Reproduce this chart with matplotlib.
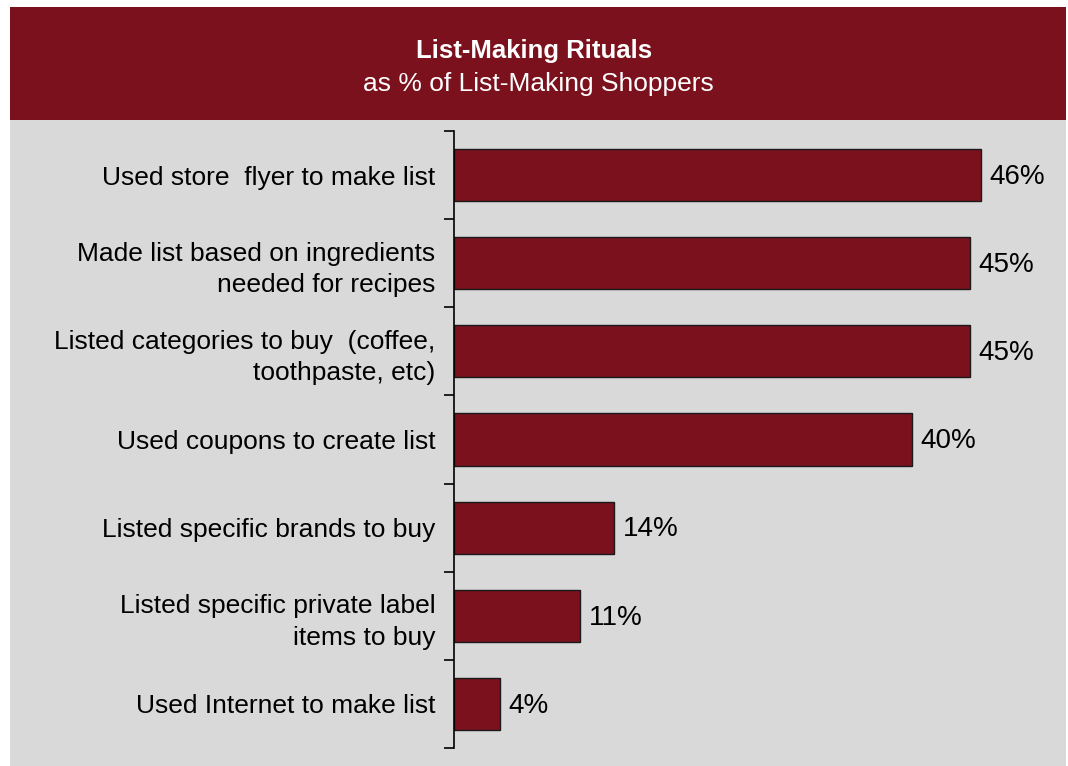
import matplotlib
matplotlib.use("Agg")
import matplotlib.pyplot as plt
from matplotlib.patches import Rectangle
import numpy as np

plt.rcParams['font.family'] = ['Liberation Sans', 'DejaVu Sans']

categories = [
    "Used store  flyer to make list",
    "Made list based on ingredients\nneeded for recipes",
    "Listed categories to buy  (coffee,\ntoothpaste, etc)",
    "Used coupons to create list",
    "Listed specific brands to buy",
    "Listed specific private label\nitems to buy",
    "Used Internet to make list",
]
values = [46, 45, 45, 40, 14, 11, 4]
value_labels = ["46%", "45%", "45%", "40%", "14%", "11%", "4%"]
title = "List-Making Rituals"
subtitle = "as % of List-Making Shoppers"

BAR = "#7B111D"
GRAY = "#D9D9D9"
W, H = 1068, 766

fig = plt.figure(figsize=(W / 100, H / 100), dpi=100)
fig.patch.set_facecolor("white")

# background panel and title band
fig.patches.append(Rectangle((10 / W, 0), 1056 / W, (H - 120) / H,
                             transform=fig.transFigure, facecolor=GRAY,
                             edgecolor="none", zorder=-10))
fig.patches.append(Rectangle((10 / W, (H - 120) / H), 1056 / W, 113 / H,
                             transform=fig.transFigure, facecolor=BAR,
                             edgecolor="none", zorder=-10))

fig.text(534 / W, 1 - 51 / H, title, ha="center", va="center",
         fontsize=18.5, fontweight="bold", color="white")
fig.text(538 / W, 1 - 84 / H, subtitle, ha="center", va="center",
         fontsize=19, color="white")

ax = fig.add_axes([454 / W, 18 / H, 573 / W, 617 / H])
ax.set_facecolor("none")
ax.set_zorder(1)
y = np.arange(len(categories))
ax.barh(y, values, height=0.59, color=BAR, edgecolor="#1a1a1a", linewidth=1.0)
ax.set_xlim(0, 50)
ax.set_ylim(len(categories) - 0.5, -0.5)

for spine in ["top", "right", "bottom"]:
    ax.spines[spine].set_visible(False)
ax.spines["left"].set_linewidth(1.2)
ax.spines["left"].set_color("black")
ax.set_xticks([])

ax.set_yticks(np.arange(-0.5, len(categories), 1.0))
ax.set_yticklabels([])
ax.tick_params(axis="y", which="major", length=7, width=1.2, direction="out", color="black")
ax.set_yticks(y, minor=True)
ax.set_yticklabels(categories, minor=True, fontsize=19, linespacing=1.38)
ax.tick_params(axis="y", which="minor", length=0, pad=13.5)

for yi, v, lab in zip(y, values, value_labels):
    ax.annotate(lab, xy=(v, yi + 0.02), xytext=(6, 0), textcoords="offset points",
                ha="left", va="center", fontsize=20, color="black")

fig.savefig("out.png", dpi=100, facecolor=fig.get_facecolor())
